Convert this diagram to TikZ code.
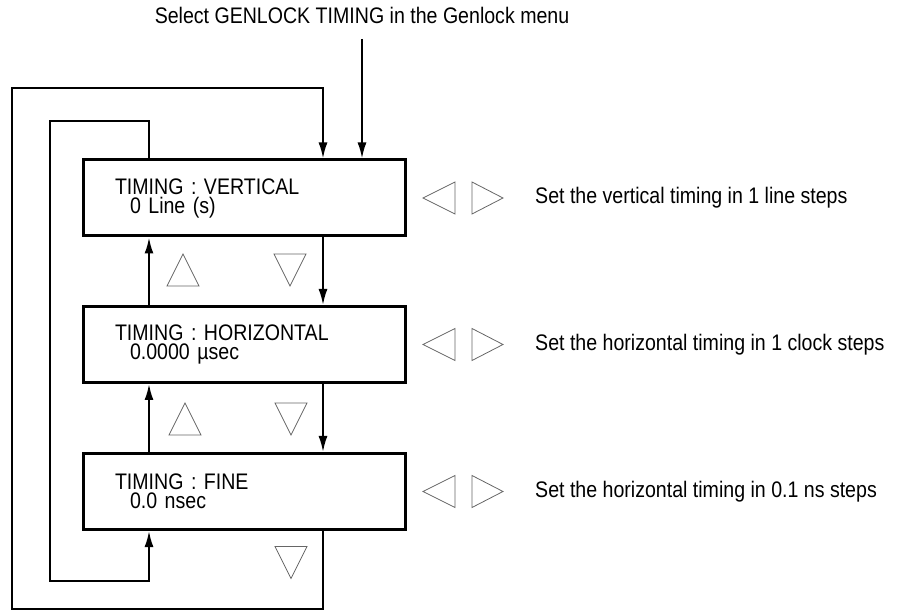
\documentclass[tikz,border=0pt]{standalone}
\usepackage{fontspec}
\setmainfont[FakeStretch=0.87]{Liberation Sans}
\usetikzlibrary{arrows.meta}
\def\upkey(#1,#2){\draw[key] (#1-16,#2+16) -- (#1+16,#2+16) -- (#1,#2-16) -- cycle;}
\def\downkey(#1,#2){\draw[key] (#1-16,#2-16) -- (#1+16,#2-16) -- (#1,#2+16) -- cycle;}
\def\sidekeys(#1){\draw[key] (423,#1) -- (455,#1-16) -- (455,#1+16) -- cycle;
	\draw[key] (503,#1) -- (472,#1-16) -- (472,#1+16) -- cycle;}

\begin{document}
\begin{tikzpicture}[x=1pt,y=-1pt,
		menubox/.style={draw, line width=3pt, minimum width=322pt, minimum height=76pt,
			inner xsep=32pt, text width=258pt, align=left, font=\fontsize{22.5}{19}\selectfont},
		link/.style={line width=2pt, line join=miter},
		flow/.style={link, -{Latex[length=16pt,width=9pt]}},
		key/.style={draw=black!60, line width=0.8pt, line join=miter},
		hint/.style={anchor=west, inner sep=0pt, font=\fontsize{22.5}{27}\selectfont}]
			%%%%% START %%%%%
			
			\useasboundingbox (0,0) rectangle (898,612);
			
			\node[hint, anchor=center] (title) at (362,15) {Select GENLOCK TIMING in the Genlock menu};
			
			\node[menubox] (vert) at (244,198) {TIMING : VERTICAL\\\hspace*{15pt}0 Line (s)};
			\node[menubox] (horiz) at (244,344.5) {TIMING : HORIZONTAL\\\hspace*{15pt}0.0000 µsec};
			\node[menubox] (fine) at (244,491.5) {TIMING : FINE\\\hspace*{15pt}0.0 nsec};
			
			\node[hint] (verthint) at (535,198) {Set the vertical timing in 1 line steps};
			\node[hint] (horizhint) at (535,344.5) {Set the horizontal timing in 1 clock steps};
			\node[hint] (finehint) at (535,491.5) {Set the horizontal timing in 0.1 ns steps};
			
			\coordinate (upx) at (149,0);
			\coordinate (downx) at (323,0);
			\coordinate (entry) at (362,39);
			\coordinate (outertop) at (12,88);
			\coordinate (outerbot) at (12,609);
			\coordinate (innertop) at (50,121);
			\coordinate (innerbot) at (50,581);
			
			\draw[flow] (entry) -- (entry |- vert.north);
			
			\draw[flow] (vert.south -| downx) -- (horiz.north -| downx);
			\draw[flow] (horiz.south -| downx) -- (fine.north -| downx);
			\draw[flow] (horiz.north -| upx) -- (vert.south -| upx);
			\draw[flow] (fine.north -| upx) -- (horiz.south -| upx);
			
			\draw[flow] (fine.south -| downx) |- (outerbot) |- (outertop) -| (vert.north -| downx);
			\draw[flow] (vert.north -| upx) |- (innertop) |- (innerbot) -| (fine.south -| upx);
			
			\upkey(183,270)
			\downkey(290,270)
			\upkey(185,419)
			\downkey(291,419)
			\downkey(291,562.5)
			
			\sidekeys(198)
			\sidekeys(344.5)
			\sidekeys(491.5)
			
			%%%%% END %%%%%
\end{tikzpicture}
\end{document}
